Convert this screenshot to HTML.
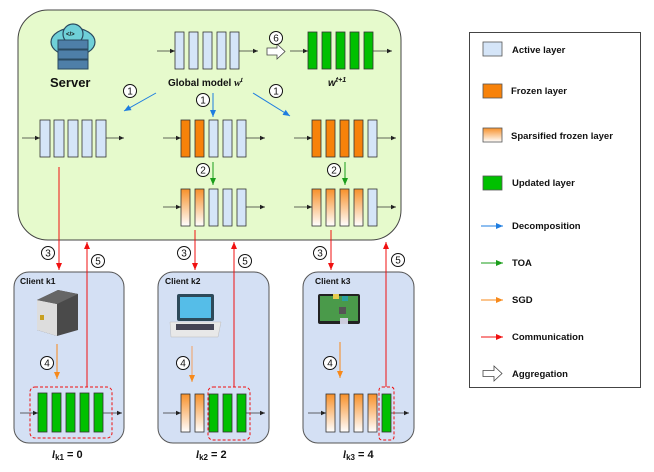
<!DOCTYPE html>
<html><head><meta charset="utf-8"><style>
html,body{margin:0;padding:0;background:#fff}
svg{display:block}
text{font-family:"Liberation Sans",Arial,sans-serif;font-weight:bold;fill:#111}
.cn circle{fill:#fff;stroke:#111;stroke-width:1}
.cn text{font-weight:normal;font-size:10px;text-anchor:middle}
</style></head><body>
<svg width="654" height="472" viewBox="0 0 654 472" xmlns="http://www.w3.org/2000/svg">
<defs>
<linearGradient id="sp" x1="0" y1="0" x2="0" y2="1"><stop offset="0" stop-color="#f7912a"/><stop offset="1" stop-color="#fff"/></linearGradient>
<marker id="mk" markerWidth="6" markerHeight="6" refX="5" refY="3" orient="auto" markerUnits="userSpaceOnUse"><path d="M0,0.8 L5,3 L0,5.2z" fill="#222"/></marker>
<marker id="mb" markerWidth="8" markerHeight="8" refX="7" refY="4" orient="auto" markerUnits="userSpaceOnUse"><path d="M0,1 L7,4 L0,7z" fill="#1e7de0"/></marker>
<marker id="mg" markerWidth="8" markerHeight="8" refX="7" refY="4" orient="auto" markerUnits="userSpaceOnUse"><path d="M0,1 L7,4 L0,7z" fill="#1a9e1a"/></marker>
<marker id="mo" markerWidth="8" markerHeight="8" refX="7" refY="4" orient="auto" markerUnits="userSpaceOnUse"><path d="M0,1 L7,4 L0,7z" fill="#f7891a"/></marker>
<marker id="mr" markerWidth="8" markerHeight="8" refX="7" refY="4" orient="auto" markerUnits="userSpaceOnUse"><path d="M0,1 L7,4 L0,7z" fill="#f01010"/></marker>
</defs>
<g stroke="#333" stroke-width="1">
<rect x="18" y="10" width="383" height="230" rx="30" fill="#e6facc" stroke="#444"/>
<rect x="14" y="272" width="110" height="171" rx="15" fill="#d4e0f4" stroke="#555"/>
<rect x="158" y="272" width="111" height="171" rx="15" fill="#d4e0f4" stroke="#555"/>
<rect x="303" y="272" width="111" height="171" rx="15" fill="#d4e0f4" stroke="#555"/>
</g>
<!-- server icon -->
<g>
<ellipse cx="73" cy="42" rx="22" ry="14" fill="#6fd0d8" stroke="#2a4a60" stroke-width="1.2"/>
<circle cx="73" cy="34" r="10" fill="#6fd0d8" stroke="#2a4a60" stroke-width="1.2"/>
<rect x="58" y="40" width="30" height="9" fill="#4e7fa8" stroke="#2a4a60"/>
<rect x="58" y="50" width="30" height="9" fill="#4e7fa8" stroke="#2a4a60"/>
<rect x="58" y="60" width="30" height="9" fill="#4e7fa8" stroke="#2a4a60"/>
<text x="66" y="36" font-size="6" fill="#2a4a60">&lt;/&gt;</text>
<text x="50" y="87" font-size="13">Server</text>
</g>
<!-- global model -->
<g stroke="#333" stroke-width="0.8" fill="#d5e5f8">
<rect x="175" y="32" width="9" height="37"/><rect x="189" y="32" width="9" height="37"/><rect x="203" y="32" width="9" height="37"/><rect x="217" y="32" width="9" height="37"/><rect x="230" y="32" width="9" height="37"/>
</g>
<g stroke="#333" stroke-width="0.8" fill="#00c000">
<rect x="308" y="32" width="9" height="37"/><rect x="322" y="32" width="9" height="37"/><rect x="336" y="32" width="9" height="37"/><rect x="350" y="32" width="9" height="37"/><rect x="364" y="32" width="9" height="37"/>
</g>
<g stroke="#333" stroke-width="0.8" marker-end="url(#mk)">
<line x1="157" y1="51" x2="175" y2="51"/><line x1="239" y1="51" x2="258" y2="51"/>
<line x1="290" y1="51" x2="308" y2="51"/><line x1="373" y1="51" x2="392" y2="51"/>
</g>
<path d="M267,48 L277,48 L277,44 L285,51.5 L277,59 L277,55 L267,55z" fill="#fff" stroke="#444" stroke-width="0.8"/>
<text x="168" y="86" font-size="10">Global model <tspan font-family="Liberation Serif" font-style="italic">w</tspan><tspan font-family="Liberation Serif" font-style="italic" font-size="7" dy="-4">t</tspan></text>
<text x="328" y="86" font-size="10" font-family="Liberation Serif" font-style="italic">w<tspan font-size="7" dy="-4">t+1</tspan></text>
<!-- rows -->
<g stroke="#333" stroke-width="0.8">
<rect x="40" y="120" width="10" height="37" fill="#d5e5f8"/><rect x="54" y="120" width="10" height="37" fill="#d5e5f8"/><rect x="68" y="120" width="10" height="37" fill="#d5e5f8"/><rect x="82" y="120" width="10" height="37" fill="#d5e5f8"/><rect x="96" y="120" width="10" height="37" fill="#d5e5f8"/>
<rect x="181" y="120" width="9" height="37" fill="#f7820a"/><rect x="195" y="120" width="9" height="37" fill="#f7820a"/><rect x="209" y="120" width="9" height="37" fill="#d5e5f8"/><rect x="223" y="120" width="9" height="37" fill="#d5e5f8"/><rect x="237" y="120" width="9" height="37" fill="#d5e5f8"/>
<rect x="312" y="120" width="9" height="37" fill="#f7820a"/><rect x="326" y="120" width="9" height="37" fill="#f7820a"/><rect x="340" y="120" width="9" height="37" fill="#f7820a"/><rect x="354" y="120" width="9" height="37" fill="#f7820a"/><rect x="368" y="120" width="9" height="37" fill="#d5e5f8"/>
<rect x="181" y="189" width="9" height="37" fill="url(#sp)"/><rect x="195" y="189" width="9" height="37" fill="url(#sp)"/><rect x="209" y="189" width="9" height="37" fill="#d5e5f8"/><rect x="223" y="189" width="9" height="37" fill="#d5e5f8"/><rect x="237" y="189" width="9" height="37" fill="#d5e5f8"/>
<rect x="312" y="189" width="9" height="37" fill="url(#sp)"/><rect x="326" y="189" width="9" height="37" fill="url(#sp)"/><rect x="340" y="189" width="9" height="37" fill="url(#sp)"/><rect x="354" y="189" width="9" height="37" fill="url(#sp)"/><rect x="368" y="189" width="9" height="37" fill="#d5e5f8"/>
</g>
<g stroke="#333" stroke-width="0.8" marker-end="url(#mk)">
<line x1="22" y1="138" x2="40" y2="138"/><line x1="106" y1="138" x2="124" y2="138"/>
<line x1="163" y1="138" x2="181" y2="138"/><line x1="246" y1="138" x2="265" y2="138"/>
<line x1="294" y1="138" x2="312" y2="138"/><line x1="377" y1="138" x2="396" y2="138"/>
<line x1="163" y1="207" x2="181" y2="207"/><line x1="246" y1="207" x2="265" y2="207"/>
<line x1="294" y1="207" x2="312" y2="207"/><line x1="377" y1="207" x2="396" y2="207"/>
</g>
<g stroke="#1e7de0" stroke-width="1">
<line x1="156" y1="93" x2="124" y2="111" marker-end="url(#mb)"/>
<line x1="213" y1="93" x2="213" y2="117" marker-end="url(#mb)"/>
<line x1="253" y1="93" x2="290" y2="116" marker-end="url(#mb)"/>
</g>
<g stroke="#1a9e1a" stroke-width="1">
<line x1="213" y1="162" x2="213" y2="185" marker-end="url(#mg)"/>
<line x1="345" y1="162" x2="345" y2="185" marker-end="url(#mg)"/>
</g>
<!-- red arrows -->
<g stroke="#f01010" stroke-width="1">
<line x1="59" y1="167" x2="59" y2="270" marker-end="url(#mr)"/>
<line x1="195" y1="230" x2="195" y2="270" marker-end="url(#mr)"/>
<line x1="331" y1="230" x2="331" y2="270" marker-end="url(#mr)"/>
<line x1="87" y1="387" x2="87" y2="242" marker-end="url(#mr)"/>
<line x1="234" y1="387" x2="234" y2="242" marker-end="url(#mr)"/>
<line x1="386" y1="387" x2="386" y2="242" marker-end="url(#mr)"/>
</g>
<!-- circled numbers -->
<g class="cn">
<circle cx="276" cy="38" r="6.5"/><text x="276" y="41.5">6</text>
<circle cx="130" cy="91" r="6.5"/><text x="130" y="94.5">1</text>
<circle cx="203" cy="100" r="6.5"/><text x="203" y="103.5">1</text>
<circle cx="276" cy="91" r="6.5"/><text x="276" y="94.5">1</text>
<circle cx="203" cy="170" r="6.5"/><text x="203" y="173.5">2</text>
<circle cx="334" cy="170" r="6.5"/><text x="334" y="173.5">2</text>
<circle cx="48" cy="253" r="6.5"/><text x="48" y="256.5">3</text>
<circle cx="184" cy="253" r="6.5"/><text x="184" y="256.5">3</text>
<circle cx="320" cy="253" r="6.5"/><text x="320" y="256.5">3</text>
<circle cx="98" cy="261" r="6.5"/><text x="98" y="264.5">5</text>
<circle cx="245" cy="261" r="6.5"/><text x="245" y="264.5">5</text>
<circle cx="398" cy="260" r="6.5"/><text x="398" y="263.5">5</text>
<circle cx="47" cy="363" r="6.5"/><text x="47" y="366.5">4</text>
<circle cx="183" cy="363" r="6.5"/><text x="183" y="366.5">4</text>
<circle cx="330" cy="363" r="6.5"/><text x="330" y="366.5">4</text>
</g>
<text x="20" y="284" font-size="8.5">Client k1</text>
<text x="165" y="284" font-size="8.5">Client k2</text>
<text x="315" y="284" font-size="8.5">Client k3</text>
<!-- devices -->
<g>
<path d="M37,300 L58,290 L78,294 L78,330 L57,336 L37,330z" fill="#4a4a4a"/>
<path d="M37,300 L57,304 L57,336 L37,330z" fill="#ddd"/>
<path d="M37,300 L58,290 L78,294 L57,304z" fill="#666"/>
<rect x="40" y="315" width="4" height="5" fill="#c8a020"/>
<rect x="177" y="294" width="37" height="27" rx="2" fill="#2d4a5a"/>
<rect x="180" y="297" width="31" height="21" fill="#55bde8"/>
<path d="M170,322 L221,322 L218,337 L171,337z" fill="#e8e8e8" stroke="#bbb" stroke-width="0.5"/>
<rect x="176" y="324" width="38" height="6" fill="#445"/>
<rect x="318" y="294" width="42" height="30" rx="2" fill="#222"/>
<rect x="320" y="296" width="38" height="25" fill="#4a9a4a"/>
<rect x="333" y="294" width="6" height="5" fill="#e8cc50"/>
<rect x="342" y="296" width="6" height="5" fill="#2aa0a0"/>
<rect x="339" y="307" width="7" height="7" fill="#555"/>
<rect x="340" y="318" width="8" height="6" fill="#ccd"/>
</g>
<g stroke="#f7891a" stroke-width="1">
<line x1="57" y1="344" x2="57" y2="379" marker-end="url(#mo)"/>
<line x1="192" y1="346" x2="192" y2="382" marker-end="url(#mo)" stroke="#f4a060"/>
<line x1="340" y1="342" x2="340" y2="378" marker-end="url(#mo)"/>
</g>
<g stroke="#333" stroke-width="0.8">
<rect x="38" y="393" width="9" height="39" fill="#00c000"/><rect x="52" y="393" width="9" height="39" fill="#00c000"/><rect x="66" y="393" width="9" height="39" fill="#00c000"/><rect x="80" y="393" width="9" height="39" fill="#00c000"/><rect x="94" y="393" width="9" height="39" fill="#00c000"/>
<rect x="181" y="394" width="9" height="38" fill="url(#sp)"/><rect x="195" y="394" width="9" height="38" fill="url(#sp)"/><rect x="209" y="394" width="9" height="38" fill="#00c000"/><rect x="223" y="394" width="9" height="38" fill="#00c000"/><rect x="237" y="394" width="9" height="38" fill="#00c000"/>
<rect x="326" y="394" width="9" height="38" fill="url(#sp)"/><rect x="340" y="394" width="9" height="38" fill="url(#sp)"/><rect x="354" y="394" width="9" height="38" fill="url(#sp)"/><rect x="368" y="394" width="9" height="38" fill="url(#sp)"/><rect x="382" y="394" width="9" height="38" fill="#00c000"/>
</g>
<g stroke="#333" stroke-width="0.8" marker-end="url(#mk)">
<line x1="20" y1="413" x2="38" y2="413"/><line x1="103" y1="413" x2="122" y2="413"/>
<line x1="163" y1="413" x2="181" y2="413"/><line x1="246" y1="413" x2="265" y2="413"/>
<line x1="308" y1="413" x2="326" y2="413"/><line x1="391" y1="413" x2="409" y2="413"/>
</g>
<g fill="none" stroke="#f01010" stroke-width="1" stroke-dasharray="3,2">
<rect x="30" y="387" width="82" height="51" rx="5"/>
<rect x="208" y="387" width="42" height="53" rx="5"/>
<rect x="379" y="387" width="15" height="53" rx="3"/>
</g>
<text x="52" y="458" font-size="11"><tspan font-family="Liberation Serif" font-style="italic">l</tspan><tspan font-size="8" dy="2">k1</tspan><tspan dy="-2"> = 0</tspan></text>
<text x="196" y="458" font-size="11"><tspan font-family="Liberation Serif" font-style="italic">l</tspan><tspan font-size="8" dy="2">k2</tspan><tspan dy="-2"> = 2</tspan></text>
<text x="343" y="458" font-size="11"><tspan font-family="Liberation Serif" font-style="italic">l</tspan><tspan font-size="8" dy="2">k3</tspan><tspan dy="-2"> = 4</tspan></text>
<!-- legend -->
<rect x="469.5" y="32.5" width="171" height="355" fill="#fff" stroke="#444"/>
<g stroke="#555" stroke-width="0.8">
<rect x="483" y="42" width="19" height="14" fill="#d5e5f8"/>
<rect x="483" y="84" width="19" height="14" fill="#f7820a"/>
<rect x="483" y="128" width="19" height="14" fill="url(#sp)"/>
<rect x="483" y="176" width="19" height="14" fill="#00c000"/>
</g>
<g font-size="9.5">
<text x="512" y="53">Active layer</text>
<text x="511" y="94">Frozen layer</text>
<text x="511" y="139">Sparsified frozen layer</text>
<text x="512" y="186">Updated layer</text>
<text x="512" y="229">Decomposition</text>
<text x="512" y="266">TOA</text>
<text x="512" y="303">SGD</text>
<text x="512" y="340">Communication</text>
<text x="512" y="377">Aggregation</text>
</g>
<line x1="481" y1="226" x2="503" y2="226" stroke="#1e7de0" marker-end="url(#mb)"/>
<line x1="481" y1="263" x2="503" y2="263" stroke="#1a9e1a" marker-end="url(#mg)"/>
<line x1="481" y1="300" x2="503" y2="300" stroke="#f7891a" marker-end="url(#mo)"/>
<line x1="481" y1="337" x2="503" y2="337" stroke="#f01010" marker-end="url(#mr)"/>
<path d="M483,370.5 L494,370.5 L494,366 L502,373.5 L494,381 L494,376.5 L483,376.5z" fill="#fff" stroke="#444" stroke-width="0.8"/>
</svg>
</body></html>
